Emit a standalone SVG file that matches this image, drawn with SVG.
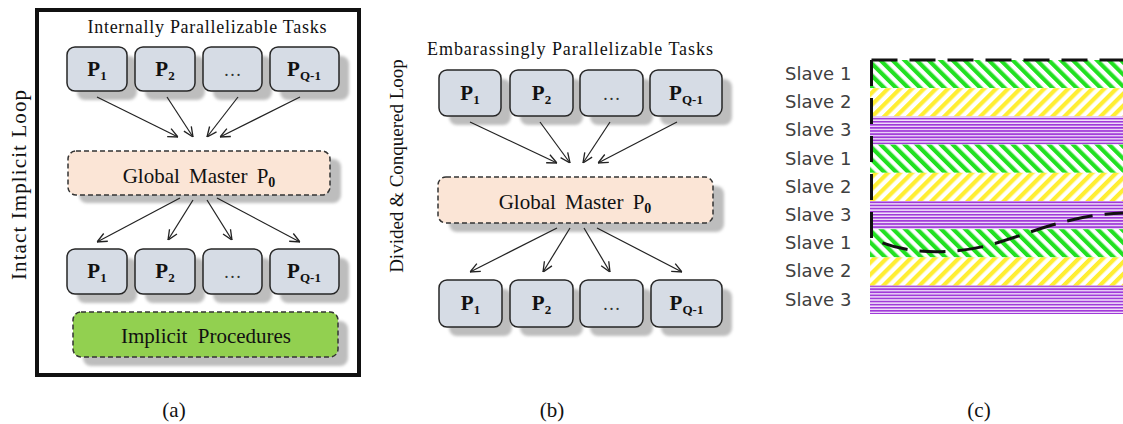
<svg xmlns="http://www.w3.org/2000/svg" width="1123" height="424" viewBox="0 0 1123 424">
  <defs>
    <style>
      .serif { font-family: "Liberation Serif", "DejaVu Serif", serif; fill: #111; }
      .pbox { fill: #d6dce5; stroke: #262626; stroke-width: 1.5; }
      .shadow { fill: #bdbdbd; filter: url(#soft); }
      .master { fill: #fbe5d6; stroke: #333; stroke-width: 1.5; stroke-dasharray: 5 3; }
      .implicit { fill: #92d050; stroke: #333; stroke-width: 1.5; stroke-dasharray: 5 3; }
      .plabel { font-family: "Liberation Serif", "DejaVu Serif", serif; font-size: 21px; font-weight: bold; fill: #111; }
      .ellipsis { font-family: "Liberation Serif", "DejaVu Serif", serif; font-size: 18px; fill: #333; }
      .arrow { stroke: #222; stroke-width: 1.2; fill: none; marker-end: url(#head); }
      .slave { font-family: "DejaVu Sans", "Liberation Sans", sans-serif; font-size: 18px; fill: #404040; }
      .band { stroke: none; }
      .outline { fill: none; stroke: #111; stroke-width: 3; stroke-dasharray: 26 12; }
    </style>
    <filter id="soft" x="-10%" y="-20%" width="120%" height="140%">
      <feGaussianBlur stdDeviation="1.5"/>
    </filter>
    <marker id="head" viewBox="0 0 10 10" refX="10" refY="5" markerWidth="11" markerHeight="11" markerUnits="userSpaceOnUse" orient="auto">
      <path d="M1,1 L10,5 L1,9" fill="none" stroke="#222" stroke-width="1.2"/>
    </marker>
    <!-- diagonal stripe fills for the slave bands -->
    <pattern id="hatchGreen" patternUnits="userSpaceOnUse" width="8.5" height="8.5" patternTransform="rotate(-45)">
      <rect width="8.5" height="8.5" fill="#ffffff"/>
      <rect width="4.2" height="8.5" fill="#22e022"/>
    </pattern>
    <pattern id="hatchYellow" patternUnits="userSpaceOnUse" width="8.5" height="8.5" patternTransform="rotate(45)">
      <rect width="8.5" height="8.5" fill="#ffffff"/>
      <rect width="4.2" height="8.5" fill="#ffee33"/>
    </pattern>
    <pattern id="hatchPurple" patternUnits="userSpaceOnUse" width="10" height="3.1">
      <rect width="10" height="3.1" fill="#f1e2fa"/>
      <rect width="10" height="1.7" fill="#a03ad8"/>
    </pattern>
  </defs>

  <rect width="1123" height="424" fill="#ffffff"/>

  <!-- ===== (a) Intact implicit loop ===== -->
  <g id="panel-a-frame">
    <rect x="37" y="10" width="322" height="365" fill="none" stroke="#111" stroke-width="4"/>
    <text class="serif" font-size="21" text-anchor="middle" textLength="190" lengthAdjust="spacing" transform="translate(26,185) rotate(-90)">Intact Implicit Loop</text>
    <text class="serif" x="207" y="33" font-size="18" text-anchor="middle" textLength="239" lengthAdjust="spacing">Internally Parallelizable Tasks</text>
  </g>

  <g id="a-top-p1">
    <rect class="shadow" x="77" y="56" width="60" height="44" rx="8"/>
    <rect class="pbox" x="67" y="47" width="60" height="44" rx="8"/>
    <text class="plabel" x="97" y="76" text-anchor="middle">P<tspan font-size="13" dy="4">1</tspan></text>
  </g>
  <g id="a-top-p2">
    <rect class="shadow" x="145" y="56" width="60" height="44" rx="8"/>
    <rect class="pbox" x="135" y="47" width="60" height="44" rx="8"/>
    <text class="plabel" x="165" y="76" text-anchor="middle">P<tspan font-size="13" dy="4">2</tspan></text>
  </g>
  <g id="a-top-dots">
    <rect class="shadow" x="213" y="56" width="59" height="44" rx="8"/>
    <rect class="pbox" x="203" y="47" width="59" height="44" rx="8"/>
    <text class="ellipsis" x="232.5" y="76" text-anchor="middle">…</text>
  </g>
  <g id="a-top-pq">
    <rect class="shadow" x="280" y="56" width="69" height="44" rx="8"/>
    <rect class="pbox" x="270" y="47" width="69" height="44" rx="8"/>
    <text class="plabel" x="304" y="76" text-anchor="middle">P<tspan font-size="13" dy="4">Q-1</tspan></text>
  </g>

  <g id="a-master">
    <rect class="shadow" x="79" y="159" width="262" height="44" rx="8"/>
    <rect class="master" x="68" y="151" width="262" height="44" rx="8"/>
    <text class="serif" x="199" y="183" font-size="21" word-spacing="4" text-anchor="middle">Global Master P<tspan font-size="14" font-weight="bold" dy="4">0</tspan></text>
  </g>

  <g id="a-bottom-p1">
    <rect class="shadow" x="77" y="258" width="60" height="45" rx="8"/>
    <rect class="pbox" x="67" y="249" width="60" height="45" rx="8"/>
    <text class="plabel" x="97" y="278" text-anchor="middle">P<tspan font-size="13" dy="4">1</tspan></text>
  </g>
  <g id="a-bottom-p2">
    <rect class="shadow" x="145" y="258" width="60" height="45" rx="8"/>
    <rect class="pbox" x="135" y="249" width="60" height="45" rx="8"/>
    <text class="plabel" x="165" y="278" text-anchor="middle">P<tspan font-size="13" dy="4">2</tspan></text>
  </g>
  <g id="a-bottom-dots">
    <rect class="shadow" x="213" y="258" width="59" height="45" rx="8"/>
    <rect class="pbox" x="203" y="249" width="59" height="45" rx="8"/>
    <text class="ellipsis" x="232.5" y="278" text-anchor="middle">…</text>
  </g>
  <g id="a-bottom-pq">
    <rect class="shadow" x="280" y="258" width="69" height="45" rx="8"/>
    <rect class="pbox" x="270" y="249" width="69" height="45" rx="8"/>
    <text class="plabel" x="304" y="278" text-anchor="middle">P<tspan font-size="13" dy="4">Q-1</tspan></text>
  </g>

  <g id="a-implicit">
    <rect class="shadow" x="83" y="321" width="265" height="45" rx="8"/>
    <rect class="implicit" x="73" y="312" width="265" height="45" rx="8"/>
    <text class="serif" x="206" y="343" font-size="21" word-spacing="5" text-anchor="middle">Implicit Procedures</text>
  </g>

  <!-- ===== (b) Divided & conquered loop ===== -->
  <g id="panel-b-labels">
    <text class="serif" font-size="19" text-anchor="middle" transform="translate(403,166) rotate(-90)">Divided &amp; Conquered Loop</text>
    <text class="serif" x="570" y="55" font-size="18" text-anchor="middle" textLength="286" lengthAdjust="spacing">Embarassingly Parallelizable Tasks</text>
  </g>

  <g id="b-top-p1">
    <rect class="shadow" x="449" y="79" width="62" height="46" rx="8"/>
    <rect class="pbox" x="439" y="70" width="62" height="46" rx="8"/>
    <text class="plabel" x="470" y="100" text-anchor="middle">P<tspan font-size="13" dy="4">1</tspan></text>
  </g>
  <g id="b-top-p2">
    <rect class="shadow" x="520" y="79" width="63" height="46" rx="8"/>
    <rect class="pbox" x="510" y="70" width="63" height="46" rx="8"/>
    <text class="plabel" x="541.5" y="100" text-anchor="middle">P<tspan font-size="13" dy="4">2</tspan></text>
  </g>
  <g id="b-top-dots">
    <rect class="shadow" x="590" y="79" width="63" height="46" rx="8"/>
    <rect class="pbox" x="580" y="70" width="63" height="46" rx="8"/>
    <text class="ellipsis" x="611.5" y="100" text-anchor="middle">…</text>
  </g>
  <g id="b-top-pq">
    <rect class="shadow" x="660" y="79" width="72" height="46" rx="8"/>
    <rect class="pbox" x="650" y="70" width="72" height="46" rx="8"/>
    <text class="plabel" x="686" y="100" text-anchor="middle">P<tspan font-size="13" dy="4">Q-1</tspan></text>
  </g>

  <g id="b-master">
    <rect class="shadow" x="449" y="186" width="275" height="46" rx="8"/>
    <rect class="master" x="438" y="177" width="275" height="46" rx="8"/>
    <text class="serif" x="575" y="209" font-size="21" word-spacing="4" text-anchor="middle">Global Master P<tspan font-size="14" font-weight="bold" dy="4">0</tspan></text>
  </g>

  <g id="b-bottom-p1">
    <rect class="shadow" x="449" y="289" width="63" height="47" rx="8"/>
    <rect class="pbox" x="439" y="280" width="63" height="47" rx="8"/>
    <text class="plabel" x="470.5" y="310" text-anchor="middle">P<tspan font-size="13" dy="4">1</tspan></text>
  </g>
  <g id="b-bottom-p2">
    <rect class="shadow" x="520" y="289" width="63" height="47" rx="8"/>
    <rect class="pbox" x="510" y="280" width="63" height="47" rx="8"/>
    <text class="plabel" x="541.5" y="310" text-anchor="middle">P<tspan font-size="13" dy="4">2</tspan></text>
  </g>
  <g id="b-bottom-dots">
    <rect class="shadow" x="590" y="289" width="63" height="47" rx="8"/>
    <rect class="pbox" x="580" y="280" width="63" height="47" rx="8"/>
    <text class="ellipsis" x="611.5" y="310" text-anchor="middle">…</text>
  </g>
  <g id="b-bottom-pq">
    <rect class="shadow" x="661" y="289" width="71" height="47" rx="8"/>
    <rect class="pbox" x="651" y="280" width="71" height="47" rx="8"/>
    <text class="plabel" x="686.5" y="310" text-anchor="middle">P<tspan font-size="13" dy="4">Q-1</tspan></text>
  </g>

  <!-- connectors: workers to master and master back to workers -->
  <g id="connectors">
    <line class="arrow" x1="97" y1="97" x2="178" y2="137"/>
    <line class="arrow" x1="167" y1="97" x2="193" y2="137"/>
    <line class="arrow" x1="238" y1="97" x2="207" y2="137"/>
    <line class="arrow" x1="300" y1="97" x2="220" y2="137"/>
    <line class="arrow" x1="180" y1="198" x2="97" y2="242"/>
    <line class="arrow" x1="193" y1="200" x2="168" y2="240"/>
    <line class="arrow" x1="207" y1="200" x2="232" y2="240"/>
    <line class="arrow" x1="217" y1="198" x2="300" y2="242"/>

    <line class="arrow" x1="470" y1="122" x2="557" y2="163"/>
    <line class="arrow" x1="540" y1="122" x2="570" y2="163"/>
    <line class="arrow" x1="610" y1="122" x2="583" y2="163"/>
    <line class="arrow" x1="677" y1="122" x2="598" y2="163"/>
    <line class="arrow" x1="557" y1="228" x2="470" y2="272"/>
    <line class="arrow" x1="570" y1="228" x2="543" y2="272"/>
    <line class="arrow" x1="584" y1="228" x2="610" y2="272"/>
    <line class="arrow" x1="597" y1="228" x2="682" y2="272"/>
  </g>

  <!-- ===== (c) slave schedule bands ===== -->
  <g id="panel-c">
    <rect class="band" x="870" y="60" width="253" height="28.2" fill="url(#hatchGreen)"/>
    <rect class="band" x="870" y="88.2" width="253" height="28.2" fill="url(#hatchYellow)"/>
    <rect class="band" x="870" y="116.4" width="253" height="28.2" fill="url(#hatchPurple)"/>
    <rect class="band" x="870" y="144.6" width="253" height="28.2" fill="url(#hatchGreen)"/>
    <rect class="band" x="870" y="172.8" width="253" height="28.2" fill="url(#hatchYellow)"/>
    <rect class="band" x="870" y="201" width="253" height="28.2" fill="url(#hatchPurple)"/>
    <rect class="band" x="870" y="229.2" width="253" height="28.2" fill="url(#hatchGreen)"/>
    <rect class="band" x="870" y="257.4" width="253" height="28.2" fill="url(#hatchYellow)"/>
    <rect class="band" x="870" y="285.6" width="253" height="28.4" fill="url(#hatchPurple)"/>

    <text class="slave" x="785" y="80">Slave 1</text>
    <text class="slave" x="785" y="108">Slave 2</text>
    <text class="slave" x="785" y="136">Slave 3</text>
    <text class="slave" x="785" y="165">Slave 1</text>
    <text class="slave" x="785" y="193">Slave 2</text>
    <text class="slave" x="785" y="221">Slave 3</text>
    <text class="slave" x="785" y="249">Slave 1</text>
    <text class="slave" x="785" y="277">Slave 2</text>
    <text class="slave" x="785" y="306">Slave 3</text>

    <path class="outline" d="M871.5,60 H1123"/>
    <path class="outline" d="M871.5,60 V238 C905,255 950,255 990,245 C1040,230 1070,215 1123,213"/>
  </g>

  <!-- sub-figure captions -->
  <g id="captions">
    <text class="serif" x="174" y="417" font-size="21" text-anchor="middle">(a)</text>
    <text class="serif" x="552" y="417" font-size="21" text-anchor="middle">(b)</text>
    <text class="serif" x="979" y="417" font-size="21" text-anchor="middle">(c)</text>
  </g>
</svg>
